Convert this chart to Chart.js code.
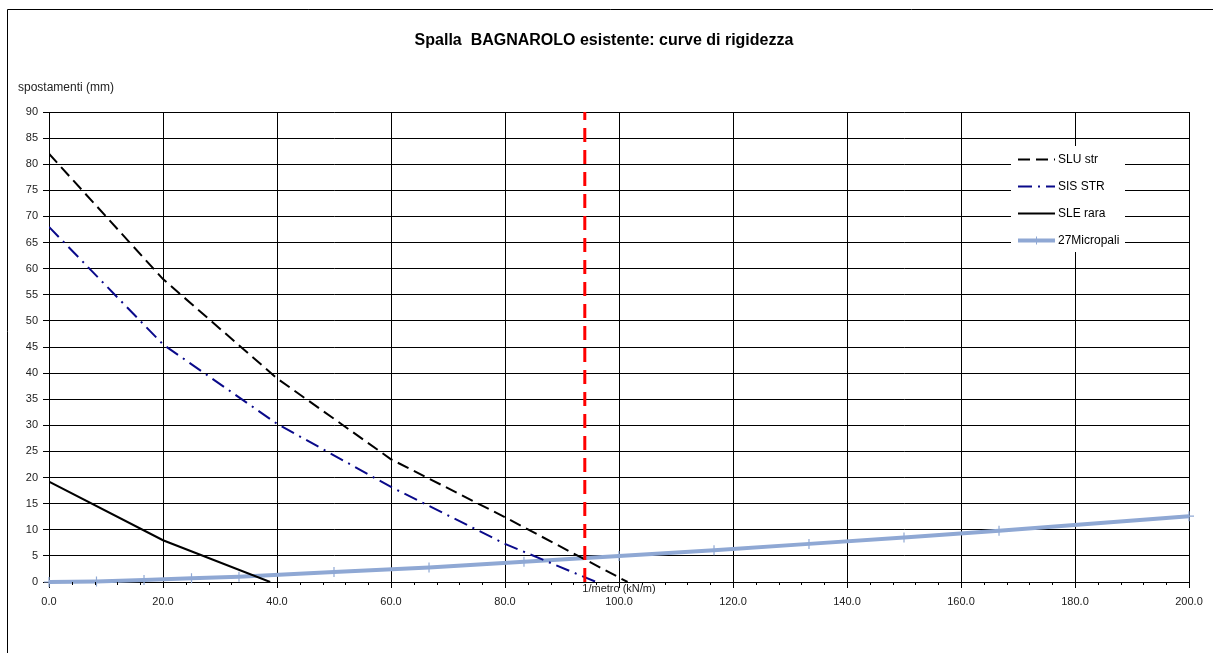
<!DOCTYPE html>
<html>
<head>
<meta charset="utf-8">
<script src="https://cdn.jsdelivr.net/npm/chart.js@4/dist/chart.umd.min.js"></script>
<style>
  body { margin: 0; background: #fff; }
  canvas { display: block; }
</style>
</head>
<body>
<canvas id="chart" width="1213" height="653"></canvas>
<script>
// valori
const title = "Spalla  BAGNAROLO esistente: curve di rigidezza";
const yTitle = "spostamenti (mm)";
const xTitle = "1/metro (kN/m)";

const sluX = [0, 20, 40, 60, 80, 101.5];
const sluY = [82, 58, 39, 23.5, 12.4, 0];

const sisX = [0, 20, 40, 60, 80, 96];
const sisY = [68, 45.5, 30.3, 18.2, 7.3, 0];

const sleX = [0, 20, 38.8];
const sleY = [19.2, 8.0, 0];

const microX = [0, 8.33, 16.67, 25, 33.33, 50, 66.67, 83.33, 100, 116.67, 133.33, 150, 166.67, 200];
const microY = [0, 0.1, 0.4, 0.7, 1.0, 1.9, 2.8, 3.9, 5.0, 6.1, 7.3, 8.5, 9.8, 12.6];

const limitX = 94;
const limitY = [0, 90];

const labels = ["SLU str", "SIS STR", "SLE rara", "27Micropali"];

function pts(xs, ys) {
  return xs.map((x, i) => ({ x: x, y: ys[i] }));
}

const FONT = "'Liberation Sans', Arial, sans-serif";

// sfondo, bordo, titoli
const decor = {
  id: "decor",
  beforeDraw(chart) {
    const ctx = chart.ctx;
    ctx.save();
    ctx.fillStyle = "#fff";
    ctx.fillRect(0, 0, chart.width, chart.height);
    ctx.strokeStyle = "#000";
    ctx.lineWidth = 1;
    ctx.beginPath();
    ctx.moveTo(7.5, chart.height);
    ctx.lineTo(7.5, 9.5);
    ctx.lineTo(chart.width, 9.5);
    ctx.stroke();

    ctx.fillStyle = "#000";
    ctx.font = "bold 16px " + FONT;
    ctx.textAlign = "center";
    ctx.textBaseline = "middle";
    ctx.fillText(title, 604, 41);

    ctx.font = "12px " + FONT;
    ctx.fillStyle = "#222";
    ctx.textAlign = "left";
    ctx.fillText(yTitle, 18, 88);
    ctx.restore();
  },
  afterDraw(chart) {
    const ctx = chart.ctx;
    const xs = chart.scales.x;
    const area = chart.chartArea;
    ctx.save();
    // tacche secondarie asse x
    ctx.strokeStyle = "#000";
    ctx.lineWidth = 1;
    for (let v = 4; v < 200; v += 4) {
      if (v % 20 === 0) continue;
      const px = Math.round(xs.getPixelForValue(v)) + 0.5;
      ctx.beginPath();
      ctx.moveTo(px, area.bottom);
      ctx.lineTo(px, area.bottom + 3);
      ctx.stroke();
    }
    // titolo asse x
    ctx.font = "11px " + FONT;
    ctx.fillStyle = "#222";
    ctx.textAlign = "center";
    ctx.textBaseline = "top";
    ctx.fillText(xTitle, xs.getPixelForValue(100), area.bottom + 1);

    // legenda
    ctx.fillStyle = "#fff";
    ctx.fillRect(1011, 146, 114, 106);
    const rows = [159, 186, 213, 240];
    ctx.font = "12px " + FONT;
    chart.data.datasets.forEach((ds) => {
      const row = labels.indexOf(ds.label);
      if (row < 0) return;
      const y = rows[row] + 0.5;
      ctx.strokeStyle = ds.borderColor;
      ctx.lineWidth = ds.borderWidth;
      ctx.setLineDash(ds.borderDash || []);
      ctx.beginPath();
      ctx.moveTo(1018, y);
      ctx.lineTo(1055, y);
      ctx.stroke();
      ctx.setLineDash([]);
      if (ds.pointRadius > 0) {
        ctx.lineWidth = 1;
        ctx.beginPath();
        ctx.moveTo(1036.5, y - 4);
        ctx.lineTo(1036.5, y + 4);
        ctx.stroke();
      }
      ctx.fillStyle = "#000";
      ctx.textAlign = "left";
      ctx.textBaseline = "middle";
      ctx.fillText(ds.label, 1058, y);
    });
    ctx.restore();
  },
};

new Chart(document.getElementById("chart"), {
  type: "line",
  data: {
    datasets: [
      {
        label: "",
        data: pts([limitX, limitX], limitY),
        borderColor: "#ff0000",
        borderWidth: 3,
        borderDash: [14, 8],
        pointRadius: 0,
        clip: false,
      },
      {
        label: labels[0],
        data: pts(sluX, sluY),
        borderColor: "#000",
        borderWidth: 2,
        borderDash: [12, 6],
        pointRadius: 0,
      },
      {
        label: labels[1],
        data: pts(sisX, sisY),
        borderColor: "#0a0a8a",
        borderWidth: 2,
        borderDash: [14, 6, 2, 6],
        pointRadius: 0,
      },
      {
        label: labels[2],
        data: pts(sleX, sleY),
        borderColor: "#000",
        borderWidth: 2,
        pointRadius: 0,
      },
      {
        label: labels[3],
        data: pts(microX, microY),
        borderColor: "#8fa8d4",
        borderWidth: 4,
        pointStyle: "cross",
        pointRadius: 5,
        pointBorderWidth: 1.2,
        pointBorderColor: "#8fa8d4",
        clip: 6,
      },
    ],
  },
  options: {
    responsive: false,
    animation: false,
    devicePixelRatio: 1,
    layout: { padding: { left: 0, top: 112, right: 24, bottom: 0 } },
    plugins: {
      legend: { display: false },
      tooltip: { enabled: false },
    },
    elements: { line: { tension: 0 } },
    scales: {
      x: {
        type: "linear",
        min: 0,
        max: 200,
        afterFit(scale) {
          scale.height = 71;
        },
        ticks: {
          stepSize: 20,
          padding: 7,
          maxRotation: 0,
          color: "#222",
          font: { family: FONT, size: 11 },
          callback: (v) => v.toFixed(1),
        },
        grid: { color: "#000", lineWidth: 1, tickLength: 6 },
        border: { color: "#000", width: 1 },
      },
      y: {
        type: "linear",
        min: 0,
        max: 90,
        afterFit(scale) {
          scale.width = 49;
        },
        ticks: {
          stepSize: 5,
          padding: 5,
          color: "#222",
          font: { family: FONT, size: 11 },
        },
        grid: { color: "#000", lineWidth: 1, tickLength: 6 },
        border: { color: "#000", width: 1 },
      },
    },
  },
  plugins: [decor],
});
</script>
</body>
</html>
